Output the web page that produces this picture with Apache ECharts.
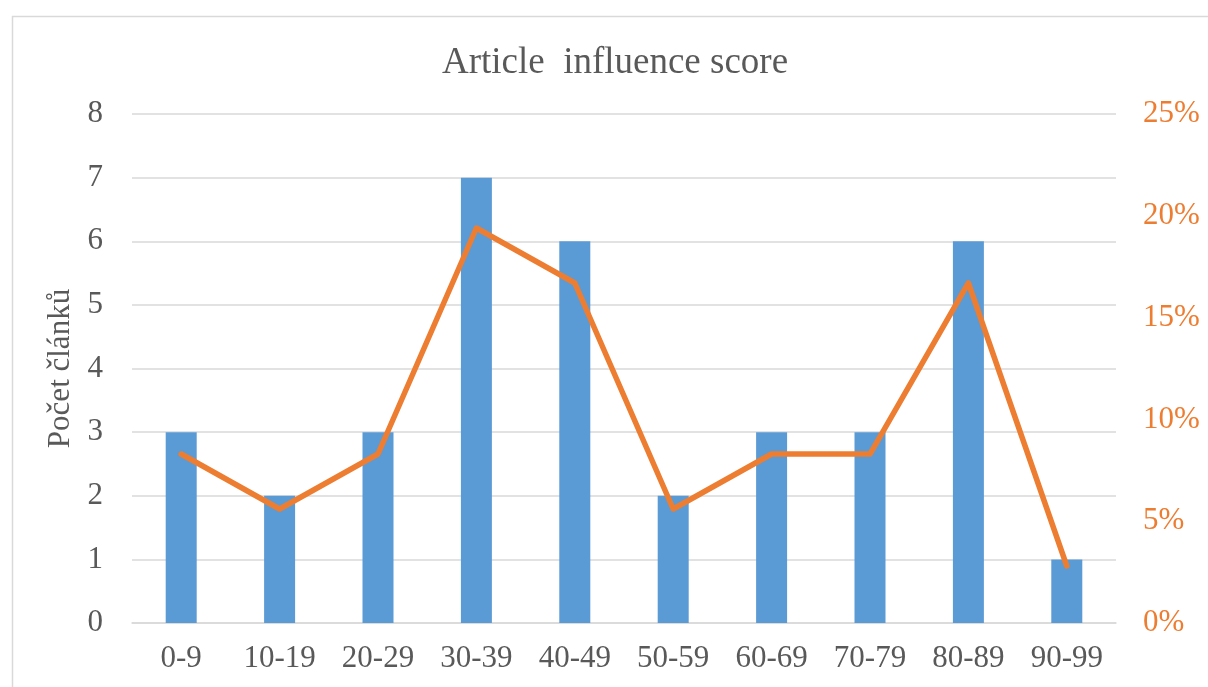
<!DOCTYPE html>
<html><head><meta charset="utf-8">
<script src="https://cdn.jsdelivr.net/npm/echarts@6/dist/echarts.min.js"></script>
<style>html,body{margin:0;padding:0;background:#fff}#c{width:1208px;height:687px}</style>
</head><body><div id="c"></div>
<script>
var categories = ['0-9','10-19','20-29','30-39','40-49','50-59','60-69','70-79','80-89','90-99'];
var counts = [3,2,3,7,6,2,3,3,6,1];
var shares = [8.3,5.6,8.3,19.4,16.7,5.6,8.3,8.3,16.7,2.8];
var leftTicks = {min:0,max:8,interval:1};
var rightTicks = {min:0,max:25,interval:5};
var titleText = 'Article  influence score';
var leftName = 'Počet článků';

var font = 'Liberation Serif, Times New Roman, serif';
var chart = echarts.init(document.getElementById('c'), null, {renderer:'canvas'});
chart.setOption({
  backgroundColor:'#fff',
  animation:false,
  graphic:[{type:'rect',left:10,top:14,shape:{width:1215,height:700},style:{fill:'none',stroke:'#d9d9d9',lineWidth:1.5},silent:true}],
  title:{text:titleText,left:610,top:40,textAlign:'center',textStyle:{fontFamily:font,fontSize:37,fontWeight:'normal',color:'#595959'}},
  grid:{left:132,right:92,top:114,bottom:64,containLabel:false},
  xAxis:{type:'category',data:categories,axisLine:{show:true,lineStyle:{color:'#d9d9d9',width:1.5}},axisTick:{show:false},
    axisLabel:{fontFamily:font,fontSize:31,color:'#595959',margin:20}},
  yAxis:[
    {type:'value',min:leftTicks.min,max:leftTicks.max,interval:leftTicks.interval,name:leftName,nameLocation:'middle',nameGap:52,nameRotate:90,
     nameTextStyle:{fontFamily:font,fontSize:31,color:'#595959'},
     axisLine:{show:false},axisTick:{show:false},axisLabel:{fontFamily:font,fontSize:31,color:'#595959',margin:29},
     splitLine:{lineStyle:{color:'#d9d9d9',width:1.5}}},
    {type:'value',min:rightTicks.min,max:rightTicks.max,interval:rightTicks.interval,position:'right',
     axisLine:{show:false},axisTick:{show:false},axisLabel:{fontFamily:font,fontSize:31,color:'#ED7D31',margin:27,formatter:'{value}%'},
     splitLine:{show:false}}
  ],
  series:[
    {type:'bar',data:counts,barWidth:31,itemStyle:{color:'#5B9BD5'},yAxisIndex:0},
    {type:'line',data:shares,yAxisIndex:1,symbol:'none',lineStyle:{color:'#ED7D31',width:5.5,cap:'round',join:'round'},itemStyle:{color:'#ED7D31'}}
  ]
});
</script></body></html>
